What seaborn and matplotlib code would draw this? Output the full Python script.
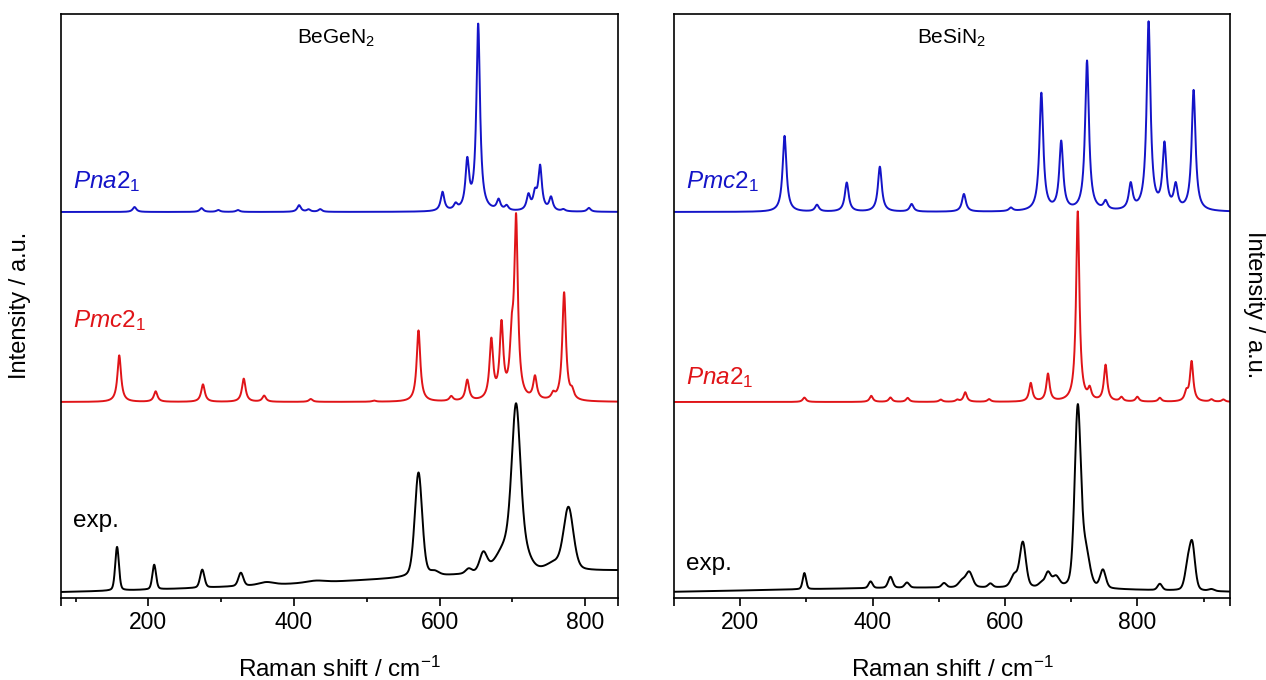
import numpy as np
import pandas as pd
import matplotlib
matplotlib.use("Agg")
import matplotlib.pyplot as plt
import seaborn as sns
from matplotlib.ticker import FixedLocator

# ---------------- BeGeN2 (left panel) ----------------
GE_XLIM = (80, 845)
# calculated Pna21 (Lorentzian lines): position / cm-1, relative intensity
GE_PNA_POS = [181, 273, 296, 323, 407, 420, 436, 604, 622, 638, 653, 681, 692,
              722, 731, 738, 753, 770, 805]
GE_PNA_AMP = [0.026, 0.02, 0.01, 0.01, 0.035, 0.012, 0.014, 0.10, 0.03, 0.25,
              0.98, 0.055, 0.025, 0.08, 0.08, 0.23, 0.07, 0.01, 0.02]
GE_PNA_HWHM = 3.0
# calculated Pmc21
GE_PMC_POS = [160, 210, 275, 331, 359, 423, 510, 571, 616, 638, 671, 685, 699,
              705, 731, 756, 771, 782]
GE_PMC_AMP = [0.245, 0.055, 0.092, 0.122, 0.032, 0.015, 0.006, 0.375, 0.025,
              0.11, 0.31, 0.385, 0.25, 0.93, 0.12, 0.03, 0.57, 0.04]
GE_PMC_HWHM = 3.0
# measured spectrum: bands and background
GE_EXP_POS = [157, 208, 274, 327, 362, 430, 571, 593, 640, 660, 692, 705, 716,
              757, 777]
GE_EXP_AMP = [0.23, 0.13, 0.095, 0.07, 0.015, 0.01, 0.55, 0.02, 0.025, 0.10,
              0.13, 0.775, 0.08, 0.035, 0.33]
GE_EXP_HWHM = [3, 3, 3.5, 4, 12, 15, 6, 7, 5, 6, 16, 7, 10, 12, 8]
GE_EXP_BG = (900, 400, 0.13, -0.016)   # centre, width, height, offset

# ---------------- BeSiN2 (right panel) ----------------
SI_XLIM = (100, 940)
SI_PMC_POS = [267, 316, 361, 411, 459, 538, 609, 655, 685, 724, 752, 790, 817,
              841, 858, 885]
SI_PMC_AMP = [0.40, 0.035, 0.153, 0.237, 0.04, 0.093, 0.018, 0.62, 0.36, 0.79,
              0.045, 0.135, 0.99, 0.34, 0.125, 0.635]
SI_PMC_HWHM = 3.5
SI_PNA_POS = [297, 398, 427, 453, 503, 528, 540, 576, 639, 665, 710, 728, 752,
              776, 800, 834, 874, 882, 912, 930]
SI_PNA_AMP = [0.023, 0.032, 0.023, 0.021, 0.012, 0.01, 0.05, 0.014, 0.097,
              0.144, 1.0, 0.055, 0.19, 0.022, 0.025, 0.02, 0.045, 0.21, 0.012,
              0.012]
SI_PNA_HWHM = 3.0
SI_EXP_POS = [297, 397, 427, 452, 508, 535, 546, 578, 614, 627, 655, 665, 677,
              710, 722, 748, 834, 876, 883, 912]
SI_EXP_AMP = [0.085, 0.035, 0.058, 0.027, 0.023, 0.033, 0.08, 0.02, 0.062,
              0.237, 0.02, 0.075, 0.055, 0.94, 0.18, 0.095, 0.033, 0.115,
              0.232, 0.01]
SI_EXP_HWHM = [3, 3.5, 4, 4, 4, 6, 6, 4, 6, 5.5, 5, 5, 6, 5.5, 7, 5, 4, 5, 5, 5]
SI_EXP_BG = (520, 300, 0.035, -0.012)

EXP_ETA = 0.3          # Lorentzian fraction of the measured band shape
OFFSETS = {"exp.": 0.0, "mid": 1.0, "top": 2.0}

BLUE = "#1414c8"
RED = "#e01418"
BLACK = "#000000"


def lorentz(x, x0, hwhm):
    return 1.0 / (1.0 + ((x - x0) / hwhm) ** 2)


def pseudo_voigt(x, x0, hwhm, eta):
    sigma = hwhm / np.sqrt(2.0 * np.log(2.0))
    gauss = np.exp(-0.5 * ((x - x0) / sigma) ** 2)
    return eta * lorentz(x, x0, hwhm) + (1.0 - eta) * gauss


def spectrum(x, pos, amp, hwhm, eta=1.0, bg=None):
    widths = np.broadcast_to(np.asarray(hwhm, dtype=float), (len(pos),))
    y = np.zeros_like(x)
    for p, a, w in zip(pos, amp, widths):
        y += a * pseudo_voigt(x, p, w, eta)
    if bg is not None:
        c, s, h, off = bg
        y += h * np.exp(-0.5 * ((x - c) / s) ** 2) + off
    return y


sns.set_theme(style="white")
plt.rcParams["font.family"] = ["Liberation Sans", "DejaVu Sans"]
plt.rcParams["mathtext.fontset"] = "custom"
plt.rcParams["mathtext.rm"] = "Liberation Sans"
plt.rcParams["mathtext.it"] = "Liberation Sans:italic"
plt.rcParams["text.color"] = "black"
plt.rcParams["axes.labelcolor"] = "black"
plt.rcParams["xtick.color"] = "black"

W, H = 1266, 680
fig = plt.figure(figsize=(W / 100, H / 100), dpi=100)
ax_l = fig.add_axes([61 / W, (H - 598) / H, 557 / W, 584 / H])
ax_r = fig.add_axes([674 / W, (H - 598) / H, 556 / W, 584 / H])

panels = [
    dict(ax=ax_l, xlim=GE_XLIM, title="BeGeN$_2$", title_x=0.424,
         traces=[
             ("top", GE_PNA_POS, GE_PNA_AMP, GE_PNA_HWHM, 1.0, None, BLUE,
              r"$\mathit{Pna}\mathrm{2}_\mathrm{1}$", 0.702),
             ("mid", GE_PMC_POS, GE_PMC_AMP, GE_PMC_HWHM, 1.0, None, RED,
              r"$\mathit{Pmc}\mathrm{2}_\mathrm{1}$", 0.464),
             ("exp.", GE_EXP_POS, GE_EXP_AMP, GE_EXP_HWHM, EXP_ETA, GE_EXP_BG,
              BLACK, "exp.", 0.122),
         ],
         minor=[100, 300, 500, 700]),
    dict(ax=ax_r, xlim=SI_XLIM, title="BeSiN$_2$", title_x=0.437,
         traces=[
             ("top", SI_PMC_POS, SI_PMC_AMP, SI_PMC_HWHM, 1.0, None, BLUE,
              r"$\mathit{Pmc}\mathrm{2}_\mathrm{1}$", 0.702),
             ("mid", SI_PNA_POS, SI_PNA_AMP, SI_PNA_HWHM, 1.0, None, RED,
              r"$\mathit{Pna}\mathrm{2}_\mathrm{1}$", 0.366),
             ("exp.", SI_EXP_POS, SI_EXP_AMP, SI_EXP_HWHM, EXP_ETA, SI_EXP_BG,
              BLACK, "exp.", 0.048),
         ],
         minor=[300, 500, 700, 900]),
]

for p in panels:
    ax = p["ax"]
    x0, x1 = p["xlim"]
    grid = np.arange(x0, x1 + 0.25, 0.25)
    for key, pos, amp, hw, eta, bg, color, label, label_y in p["traces"]:
        y = spectrum(grid, pos, amp, hw, eta, bg) + OFFSETS[key]
        df = pd.DataFrame({"shift": grid, "intensity": y})
        sns.lineplot(data=df, x="shift", y="intensity", ax=ax, color=color,
                     lw=1.4, estimator=None, sort=False)
        ax.text(0.022, label_y, label, transform=ax.transAxes, color=color,
                fontsize=17.5, ha="left", va="baseline")
    ax.text(p["title_x"], 0.950, p["title"], transform=ax.transAxes,
            fontsize=15, ha="left", va="baseline", color="black")

    ax.set_xlim(x0, x1)
    ax.set_ylim(-0.0316, 3.042)
    ax.set_yticks([])
    ax.set_xticks([x0, 200, 400, 600, 800, x1])
    ax.set_xticklabels(["", "200", "400", "600", "800", ""])
    ax.xaxis.set_minor_locator(FixedLocator(p["minor"]))
    ax.tick_params(axis="x", which="major", direction="out", length=5.5,
                   width=1.2, labelsize=16.5, pad=4, color="black",
                   labelcolor="black", bottom=True, top=False)
    ax.tick_params(axis="x", which="minor", direction="out", length=3,
                   width=1.2, bottom=True, top=False, color="black")
    for s in ax.spines.values():
        s.set_visible(True)
        s.set_linewidth(1.2)
        s.set_color("black")
    ax.set_xlabel("Raman shift / cm$^{-1}$", fontsize=17.5, color="black")
    ax.xaxis.set_label_coords(0.5, -0.10)
    ax.set_ylabel("")

fig.text(20 / W, 1 - 305 / H, "Intensity / a.u.", rotation=90, fontsize=17,
         ha="center", va="center", color="black")
fig.text(1254 / W, 1 - 305 / H, "Intensity / a.u.", rotation=-90, fontsize=17,
         ha="center", va="center", color="black")

fig.savefig("out.png", dpi=100, facecolor="white")
